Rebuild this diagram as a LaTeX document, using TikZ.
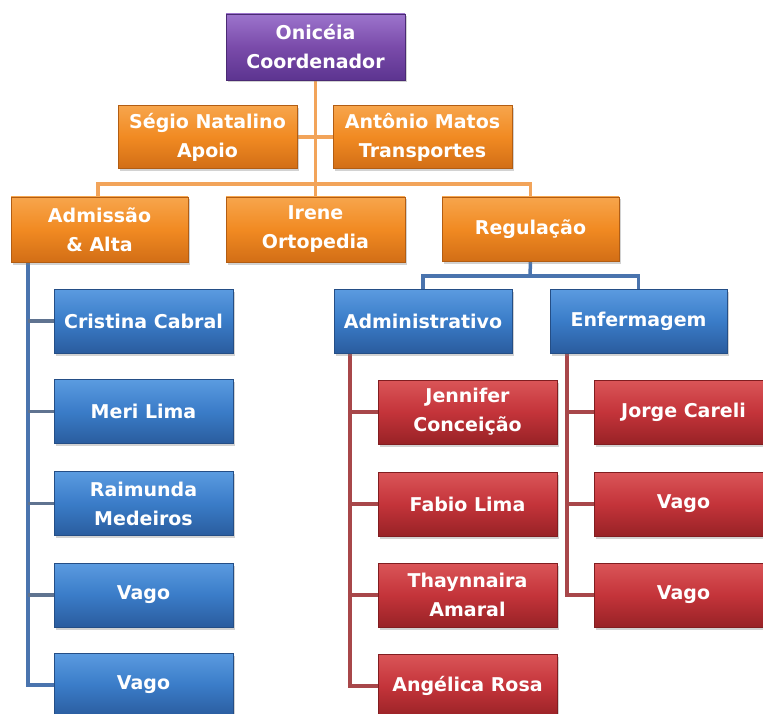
\documentclass[tikz,border=0pt]{standalone}
\usepackage{fontspec}
\setmainfont{DejaVu Sans}
\usetikzlibrary{shadows,backgrounds}
\definecolor{purM}{HTML}{7A4BAA}\definecolor{purT}{HTML}{9C74CC}\definecolor{purB}{HTML}{5C3490}
\definecolor{orM}{HTML}{F18A22}\definecolor{orT}{HTML}{F7A54C}\definecolor{orB}{HTML}{D26E16}
\definecolor{blM}{HTML}{3A7CC8}\definecolor{blT}{HTML}{5B9BE0}\definecolor{blB}{HTML}{2A5C9E}
\definecolor{rdM}{HTML}{C4343A}\definecolor{rdT}{HTML}{DA5558}\definecolor{rdB}{HTML}{982226}
\definecolor{orLine}{HTML}{F2A45A}\definecolor{blLine}{HTML}{4A74AE}\definecolor{rdLine}{HTML}{A8474A}
\definecolor{gyLine}{HTML}{5F7390}
\tikzset{
  box/.style={rectangle, minimum width=179pt, minimum height=64pt, inner sep=0pt,
     align=center, text=white, font=\fontsize{19}{29}\selectfont\bfseries,
     drop shadow={opacity=0.35, shadow xshift=2pt, shadow yshift=-2.5pt}},
  purbox/.style={box, top color=purT, bottom color=purB, middle color=purM, draw=purB!80!black, line width=0.6pt},
  orbox/.style={box, top color=orT, bottom color=orB, middle color=orM, draw=orB!85!black, line width=0.6pt},
  blbox/.style={box, top color=blT, bottom color=blB, middle color=blM, draw=blB!85!black, line width=0.6pt},
  rdbox/.style={box, top color=rdT, bottom color=rdB, middle color=rdM, draw=rdB!85!black, line width=0.6pt},
  orcon/.style={draw=orLine, line width=3.5pt},
  blcon/.style={draw=blLine, line width=3.5pt},
  gycon/.style={draw=gyLine, line width=3.5pt},
  rdcon/.style={draw=rdLine, line width=3.5pt},
}
\begin{document}
\begin{tikzpicture}[x=1pt,y=-1pt]
\useasboundingbox (0,0) rectangle (763,714);
% boxes
\node[purbox, minimum height=66pt] (top) at (315.5,47) {Onicéia\\Coordenador};
\node[orbox, minimum height=63pt] (segio) at (207.5,137) {Ségio Natalino\\Apoio};
\node[orbox, minimum height=63pt] (antonio) at (422.5,137) {Antônio Matos\\Transportes};
\node[orbox, minimum width=177pt, minimum height=65pt] (adm) at (99.5,229.5) {Admissão\\\& Alta};
\node[orbox, minimum height=65pt] (irene) at (315.5,229.5) {Irene\\Ortopedia};
\node[orbox, minimum width=177pt] (reg) at (530.5,229) {Regulação};
\node[blbox, minimum width=178pt] (admin) at (423,321) {Administrativo};
\node[blbox, minimum width=177pt] (enf) at (638.5,321) {Enfermagem};
\node[blbox] (b1) at (143.5,321) {Cristina Cabral};
\node[blbox] (b2) at (143.5,411.5) {Meri Lima};
\node[blbox] (b3) at (143.5,503.5) {Raimunda\\Medeiros};
\node[blbox] (b4) at (143.5,595) {Vago};
\node[blbox] (b5) at (143.5,685) {Vago};
\node[rdbox] (r1) at (467.5,412) {Jennifer\\Conceição};
\node[rdbox] (r2) at (467.5,504) {Fabio Lima};
\node[rdbox] (r3) at (467.5,595) {Thaynnaira\\Amaral};
\node[rdbox] (r4) at (467.5,686) {Angélica Rosa};
\node[rdbox] (e1) at (683.5,412) {Jorge Careli};
\node[rdbox] (e2) at (683.5,504) {Vago};
\node[rdbox] (e3) at (683.5,595) {Vago};
% bus coordinates
\coordinate (busy) at (315,184);
\coordinate (rb) at (530,276);
\coordinate (at) at (28,262);
\coordinate (rt) at (350,353);
\coordinate (et) at (567,353);
\coordinate (admtop) at (98,197);
\begin{scope}[on background layer]
\fill[white] (0,0) rectangle (763,714);
\draw[orcon] (top.south) -- (irene.north);
\draw[orcon] (segio.east) -- (antonio.west);
\draw[orcon] (admtop) |- (busy) -| (reg.north);
\draw[blcon] (reg.south) -- (rb);
\draw[blcon] (admin.north) |- (rb) -| (enf.north);
\draw[blcon] (at) |- (b5.west);
\draw[rdcon] (rt) |- (r4.west);
\draw[rdcon] (et) |- (e3.west);
\foreach \n in {b1,b2,b3,b4} \draw[gycon] (at |- \n.west) -- (\n.west);
\foreach \n in {r1,r2,r3} \draw[rdcon] (rt |- \n.west) -- (\n.west);
\foreach \n in {e1,e2} \draw[rdcon] (et |- \n.west) -- (\n.west);
\end{scope}
\end{tikzpicture}
\end{document}
